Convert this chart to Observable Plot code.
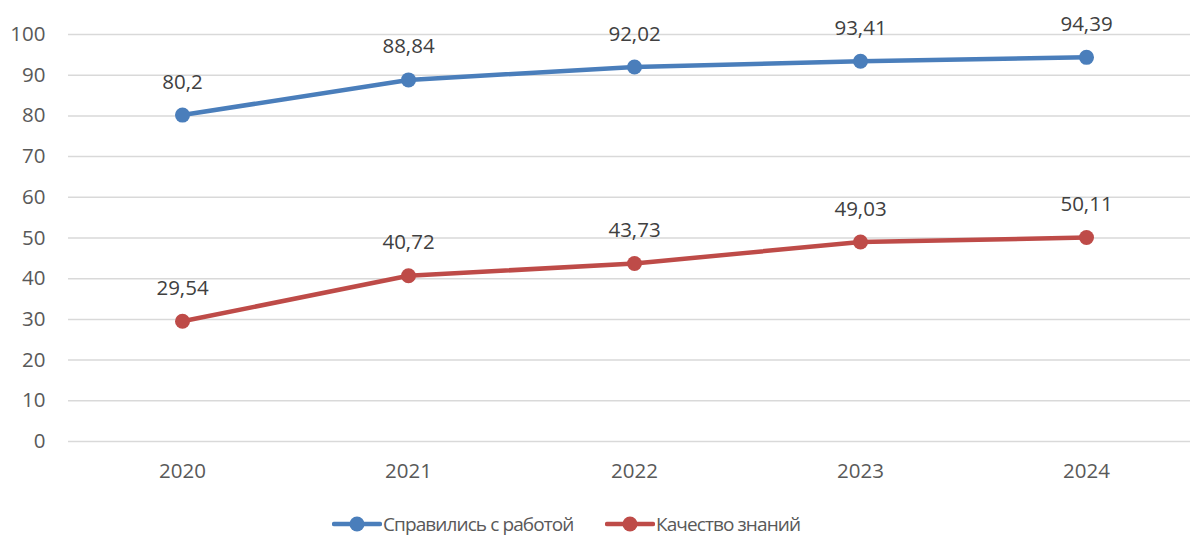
<!DOCTYPE html>
<html>
<head>
<meta charset="utf-8">
<script src="https://cdn.jsdelivr.net/npm/d3@7"></script>
<script src="https://cdn.jsdelivr.net/npm/@observablehq/plot@0.6"></script>
<style>
  html, body { margin: 0; padding: 0; background: #fff; }
  body { width: 1190px; height: 536px; overflow: hidden; font-family: "Open Sans", "Liberation Sans", sans-serif; }
  #chart svg { display: block; }
  .legend { position: relative; height: 46px; }
  .item { position: absolute; top: 24px; height: 20px; line-height: 20px; display: flex; align-items: center; font-size: 19px; letter-spacing: -0.9px; color: #595959; }
  .item svg { margin-right: 1px; }
</style>
</head>
<body>
<div id="chart"></div>
<div class="legend" id="legend"></div>
<script>
const years = ["2020", "2021", "2022", "2023", "2024"];
const seriesNames = ["Справились с работой", "Качество знаний"];
const done = [80.2, 88.84, 92.02, 93.41, 94.39];
const quality = [29.54, 40.72, 43.73, 49.03, 50.11];
const yTicks = [0, 10, 20, 30, 40, 50, 60, 70, 80, 90, 100];
const colors = ["#4a7ebb", "#be4b48"];

const data = [];
years.forEach((y, i) => {
  data.push({year: y, value: done[i], series: seriesNames[0]});
  data.push({year: y, value: quality[i], series: seriesNames[1]});
});
const fmt = v => String(v).replace(".", ",");

const chart = Plot.plot({
  width: 1190,
  height: 490,
  marginTop: 34,
  marginBottom: 49,
  marginLeft: 68,
  marginRight: 0,
  style: {fontFamily: '"Open Sans", "Liberation Sans", sans-serif', fontSize: "20.5px", color: "#595959", background: "#fff"},
  x: {type: "point", domain: years, range: [68, 1200], padding: 0.5, label: null, tickSize: 0, tickPadding: 22},
  y: {domain: [0, 100], ticks: yTicks, label: null, tickSize: 0, tickPadding: 23},
  color: {domain: seriesNames, range: colors},
  marks: [
    Plot.ruleY(yTicks, {stroke: "#d9d9d9", strokeWidth: 1.5, strokeOpacity: 1}),
    Plot.line(data, {x: "year", y: "value", z: "series", stroke: "series", strokeWidth: 4.5, strokeLinecap: "round"}),
    Plot.dot(data, {x: "year", y: "value", fill: "series", r: 7.5}),
    Plot.text(data, {x: "year", y: "value", text: d => fmt(d.value), dy: -33, fill: "#404040", fontSize: 20.5})
  ]
});
document.getElementById("chart").appendChild(chart);

const legend = document.getElementById("legend");
const lefts = [332, 605];
seriesNames.forEach((name, i) => {
  const el = document.createElement("div");
  el.className = "item";
  el.style.left = lefts[i] + "px";
  el.innerHTML = `<svg width="50" height="18"><line x1="2" y1="9" x2="48" y2="9" stroke="${colors[i]}" stroke-width="4.5" stroke-linecap="round"/><circle cx="25" cy="9" r="7.5" fill="${colors[i]}"/></svg><span>${name}</span>`;
  legend.appendChild(el);
});
</script>
</body>
</html>
